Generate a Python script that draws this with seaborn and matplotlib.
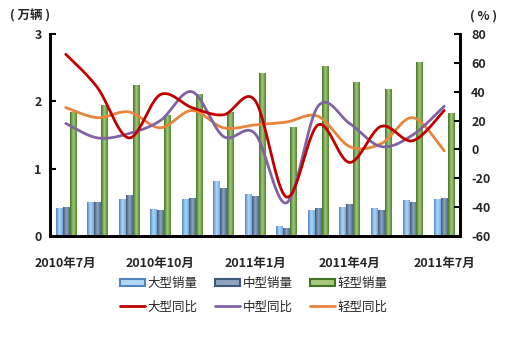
import numpy as np
import pandas as pd
import matplotlib
matplotlib.use("Agg")
import matplotlib.pyplot as plt
from matplotlib.lines import Line2D
from matplotlib.patches import Patch
from matplotlib.colors import LinearSegmentedColormap
import seaborn as sns

months = ["2010年7月", "2010年8月", "2010年9月", "2010年10月", "2010年11月", "2010年12月",
          "2011年1月", "2011年2月", "2011年3月", "2011年4月", "2011年5月", "2011年6月", "2011年7月"]
large_sales = [0.42, 0.51, 0.55, 0.40, 0.55, 0.82, 0.63, 0.15, 0.39, 0.43, 0.42, 0.53, 0.55]
medium_sales = [0.43, 0.51, 0.61, 0.39, 0.57, 0.72, 0.60, 0.12, 0.42, 0.48, 0.39, 0.51, 0.56]
light_sales = [1.84, 1.95, 2.24, 1.80, 2.11, 1.84, 2.42, 1.62, 2.53, 2.29, 2.18, 2.59, 1.83]
large_yoy = [66, 43, 8, 38, 29, 24, 34, -33, 17, -9, 16, 6, 27]
medium_yoy = [18, 8, 11, 20, 40, 9, 11, -37, 30, 18, 2, 10, 30]
light_yoy = [29, 22, 26, 15, 27, 15, 17, 19, 23, 2, 4, 22, -1]
tick_labels = ["2010年7月", "2010年10月", "2011年1月", "2011年4月", "2011年7月"]
sales_names = ["大型销量", "中型销量", "轻型销量"]
yoy_names = ["大型同比", "中型同比", "轻型同比"]

sns.set_theme(style="white")
plt.rcParams['font.family'] = ['Noto Sans CJK SC', 'DejaVu Sans']

df = pd.DataFrame({
    "month": months * 3,
    "series": sum([[nm] * len(months) for nm in sales_names], []),
    "value": large_sales + medium_sales + light_sales,
})

fig = plt.figure(figsize=(5.08, 3.46), dpi=100)
ax = fig.add_axes([50 / 508, 1 - 236 / 346, 410 / 508, 202 / 346])

bar_cols = ["#86B6E4", "#5F7A99", "#6E9A3E"]
sns.barplot(data=df, x="month", y="value", hue="series", order=months,
            hue_order=sales_names, palette=bar_cols, width=0.66, gap=0.08,
            ax=ax, legend=False, saturation=1)

grads = {
    0: ["#4F86C0", "#B2D8F8", "#73A9DE"],
    1: ["#3E5878", "#8EA5C2", "#4F6888"],
    2: ["#3E7526", "#A6C97A", "#4E862E"],
}
n = len(months)
for i, p in enumerate(ax.patches[:3 * n]):
    k = i // n
    cmap = LinearSegmentedColormap.from_list("g%d" % k, grads[k])
    x0, y0 = p.get_x(), p.get_y()
    w, h = p.get_width(), p.get_height()
    grad = np.linspace(0, 1, 64).reshape(1, -1)
    im = ax.imshow(grad, cmap=cmap, aspect="auto", extent=[x0, x0 + w, y0, y0 + h],
                   zorder=p.get_zorder(), interpolation="bilinear")
    im.set_clip_path(p)
    p.set_facecolor("none")
    p.set_edgecolor("none")

ax.set_xlim(-0.5, n - 0.5)
ax.set_ylim(0, 3)
ax.set_yticks([0, 1, 2, 3])
ax.set_yticklabels(["0", "1", "2", "3"], fontweight="bold", fontsize=9)
ax.set_xticks([0, 3, 6, 9, 12])
ax.set_xticklabels(tick_labels, fontweight="bold", fontsize=9)
ax.set_xticks(np.arange(-0.5, n, 1), minor=True)
ax.tick_params(axis="x", which="major", length=0, pad=15)
ax.tick_params(axis="x", which="minor", length=3, width=1, direction="in", color="black")
ax.tick_params(axis="y", length=4, width=1.5, direction="in", left=True, color="black", pad=6)
ax.set_xlabel("")
ax.set_ylabel("")
for s in ["left", "bottom", "right"]:
    ax.spines[s].set_color("black")
    ax.spines[s].set_linewidth(2)
ax.spines["top"].set_visible(False)

ax2 = ax.twinx()
ax2.set_ylim(-60, 80)
ax2.set_yticks(np.arange(-60, 81, 20))
ax2.set_yticklabels([str(v) for v in range(-60, 81, 20)], fontweight="bold", fontsize=9)
ax2.tick_params(axis="y", length=4, width=1.5, direction="in", right=True, color="black", pad=8)
for s in ["left", "bottom", "right"]:
    ax2.spines[s].set_color("black")
    ax2.spines[s].set_linewidth(2)
ax2.spines["top"].set_visible(False)


def smooth(xs, ys, steps=30):
    xs = np.asarray(xs, float)
    ys = np.asarray(ys, float)
    P = np.column_stack([xs, ys])
    P = np.vstack([P[0], P, P[-1]])
    out = []
    for i in range(1, len(P) - 2):
        p0, p1, p2, p3 = P[i - 1], P[i], P[i + 1], P[i + 2]
        b1 = p1 + (p2 - p0) / 6
        b2 = p2 - (p3 - p1) / 6
        t = np.linspace(0, 1, steps)[:, None]
        seg = (1 - t) ** 3 * p1 + 3 * (1 - t) ** 2 * t * b1 + 3 * (1 - t) * t ** 2 * b2 + t ** 3 * p2
        out.append(seg if i == 1 else seg[1:])
    s = np.vstack(out)
    return s[:, 0], s[:, 1]


xpos = np.arange(n)
line_cols = ["#C00000", "#8064A2", "#E8843C"]
for vals, c in zip([light_yoy, medium_yoy, large_yoy], line_cols[::-1]):
    sx, sy = smooth(xpos, vals)
    ax2.plot(sx, sy, color=c, lw=2)

fig.text(10 / 508, 1 - 16 / 346, "( 万辆 )", fontsize=9, fontweight="bold", va="center", ha="left")
fig.text(470 / 508, 1 - 16 / 346, "( % )", fontsize=9, fontweight="bold", va="center", ha="left")

handles = []
for i in range(3):
    handles.append(Patch(facecolor=grads[i][1], edgecolor=grads[i][0], linewidth=1.5))
    handles.append(Line2D([0], [0], color=line_cols[i], lw=2))
labels = []
for i in range(3):
    labels.append(sales_names[i])
    labels.append(yoy_names[i])
fig.legend(handles, labels, ncol=3, loc="center", bbox_to_anchor=(0.5, 1 - 295 / 346),
           frameon=False, fontsize=9, handlelength=2.0, handleheight=0.45,
           handletextpad=0.2, columnspacing=1.4, labelspacing=0.85)

fig.savefig("out.png", dpi=100)
